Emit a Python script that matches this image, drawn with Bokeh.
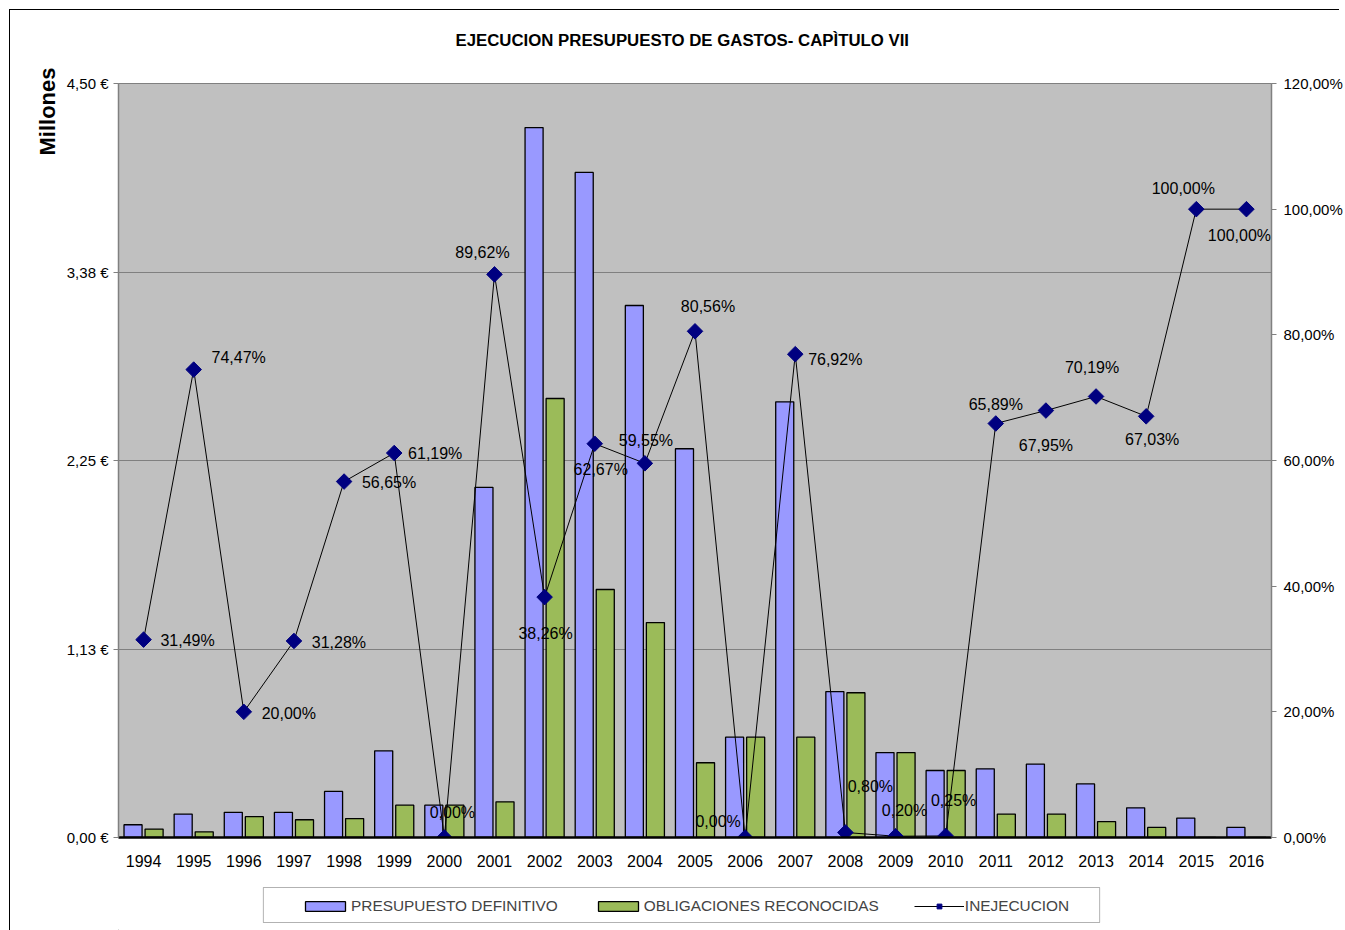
import math
from bokeh.plotting import figure
from bokeh.layouts import column
from bokeh.models import (ColumnDataSource, Range1d, FactorRange, LinearAxis, FixedTicker,
                          Legend, LegendItem, Title, InlineStyleSheet, BoxAnnotation)
from bokeh.transform import dodge
from bokeh.embed import file_html
from bokeh.resources import INLINE
from bokeh.core.properties import value

# ---------------- data ----------------
years = ["1994", "1995", "1996", "1997", "1998", "1999", "2000", "2001", "2002", "2003", "2004",
         "2005", "2006", "2007", "2008", "2009", "2010", "2011", "2012", "2013", "2014", "2015", "2016"]
presupuesto = [0.076, 0.140, 0.150, 0.150, 0.275, 0.517, 0.193, 2.090, 4.237, 3.969, 3.175,
               2.320, 0.599, 2.600, 0.871, 0.507, 0.400, 0.410, 0.438, 0.320, 0.177, 0.116, 0.060]
obligaciones = [0.050, 0.034, 0.124, 0.106, 0.113, 0.193, 0.193, 0.213, 2.620, 1.480, 1.283,
                0.446, 0.599, 0.599, 0.864, 0.507, 0.400, 0.140, 0.140, 0.095, 0.060, 0.000, 0.000]
inejecucion = [31.49, 74.47, 20.00, 31.28, 56.65, 61.19, 0.00, 89.62, 38.26, 62.67, 59.55,
               80.56, 0.00, 76.92, 0.80, 0.20, 0.25, 65.89, 67.95, 70.19, 67.03, 100.00, 100.00]

left_ticks = [0, 1.125, 2.25, 3.375, 4.5]
left_tick_labels = ["0,00 €", "1,13 €", "2,25 €", "3,38 €", "4,50 €"]
right_ticks = [0, 20, 40, 60, 80, 100, 120]
right_tick_labels = ["0,00%", "20,00%", "40,00%", "60,00%", "80,00%", "100,00%", "120,00%"]

TITLE = "EJECUCION  PRESUPUESTO  DE GASTOS- CAPÌTULO VII"
SERIES = ["PRESUPUESTO DEFINITIVO", "OBLIGACIONES RECONOCIDAS", "INEJECUCION"]

# data-label placement (pixel offsets from each marker)
label_dx = [44, 45, 45, 45, 45, 41, 8, -12, 1, 6, 1, 13, -27, 40, 25, 9, 8, 0, 0, -4, 6, -13, -7]
label_dy = [1, -12, 2, 2, 1, 0, -25, -22, 36, 26, -23, -25, -16, 5, -46, -26, -35, -19, 35, -29, 23, -21, 26]

FONT = "Liberation Sans"
W = 1345
H_MAIN = 880
H_LEG = 50
FRAME_L, FRAME_R = 118, 1272
BLUE, GREEN, NAVY = "#9999FF", "#9BBB59", "#000080"
pct_labels = [("%.2f" % v).replace(".", ",") + "%" for v in inejecucion]

src = ColumnDataSource(dict(year=years, pres=presupuesto, obl=obligaciones, inej=inejecucion,
                            lbl=pct_labels, dx=label_dx, dy=label_dy))

p = figure(x_range=FactorRange(*years), y_range=Range1d(0, 4.5),
           width=W, height=H_MAIN,
           min_border_left=FRAME_L, min_border_right=W - FRAME_R, min_border_top=83,
           min_border_bottom=H_MAIN - 837,
           output_backend="svg", toolbar_location=None,
           background_fill_color="#C0C0C0", border_fill_color="white")
p.stylesheets = [InlineStyleSheet(css=(
    ":host::after { content: ''; position: absolute; left: 9px; top: 9px; "
    "width: 1330px; height: 871px; border-top: 1px solid black; "
    "border-left: 1px solid black; pointer-events: none; }"))]
p.extra_y_ranges = {"pct": Range1d(0, 120)}
p.outline_line_color = "#808080"

# spacer + title
p.add_layout(Title(text=" ", text_font_size="1px", standoff=26), "above")
p.title.text = TITLE
p.title.align = "left"
p.title.offset = 455 - FRAME_L
p.title.standoff = 10
p.title.text_font = FONT
p.title.text_font_size = "16.8px"
p.title.text_font_style = "bold"
p.title.text_color = "black"

# bars
b1 = p.vbar(x=dodge("year", -0.21, range=p.x_range), top="pres", width=0.36, source=src,
            fill_color=BLUE, line_color="black", line_width=1.3)
b2 = p.vbar(x=dodge("year", 0.21, range=p.x_range), top="obl", width=0.36, source=src,
            fill_color=GREEN, line_color="black", line_width=1.3)

# line + markers
ln = p.line(x="year", y="inej", source=src, y_range_name="pct", line_color="black", line_width=1)
mk = p.scatter(x="year", y="inej", source=src, y_range_name="pct", marker="square",
               angle=math.pi / 4, size=11, fill_color=NAVY, line_color=NAVY)
p.text(x="year", y="inej", text="lbl", x_offset="dx", y_offset="dy", source=src,
       y_range_name="pct", text_align="center", text_baseline="middle",
       text_font=value(FONT), text_font_size="16px", text_color="black")

# axes
xa = p.xaxis[0]
xa.major_tick_line_color = None
xa.major_tick_out = 0
xa.axis_line_color = "black"
xa.axis_line_width = 2.5
xa.major_label_standoff = 17
xa.major_label_text_font = FONT
xa.major_label_text_font_size = "16px"
xa.major_label_text_color = "black"

ya = p.yaxis[0]
ya.ticker = FixedTicker(ticks=left_ticks)
ya.major_label_overrides = {t: l for t, l in zip(left_ticks, left_tick_labels)}
ya.minor_tick_line_color = None
ya.major_tick_out = 5
ya.major_tick_in = 0
ya.major_tick_line_color = "#808080"
ya.axis_line_color = "#808080"
ya.axis_line_width = 1.5
ya.major_label_standoff = 5
ya.major_label_text_font = FONT
ya.major_label_text_font_size = "15px"
ya.major_label_text_color = "black"

ra = LinearAxis(y_range_name="pct", ticker=FixedTicker(ticks=right_ticks))
ra.major_label_overrides = {t: l for t, l in zip(right_ticks, right_tick_labels)}
ra.minor_tick_line_color = None
ra.major_tick_out = 5
ra.major_tick_in = 0
ra.major_tick_line_color = "#808080"
ra.axis_line_color = "#808080"
ra.axis_line_width = 1.5
ra.major_label_standoff = 7
ra.major_label_text_font = FONT
ra.major_label_text_font_size = "15px"
ra.major_label_text_color = "black"
p.add_layout(ra, "right")

p.xgrid.grid_line_color = None
p.ygrid.ticker = FixedTicker(ticks=left_ticks)
p.ygrid.grid_line_color = "#808080"
p.ygrid.grid_line_width = 1

# "Millones" as a vertical title left of the axis, aligned to the top
p.add_layout(Title(text="Millones", align="right", offset=-16, standoff=8,
                   text_font=FONT, text_font_size="22px", text_font_style="bold",
                   text_color="black"), "left")

# ---------------- legend strip below the chart ----------------
# (its frame is aligned with the chart frame by the column layout, so its
#  x range is expressed in page pixels between the frame edges)
q = figure(width=W, height=H_LEG, x_range=Range1d(FRAME_L, FRAME_R), y_range=Range1d(0, H_LEG),
           min_border=0, min_border_left=FRAME_L, min_border_right=W - FRAME_R,
           x_axis_location=None, y_axis_location=None,
           output_backend="svg", toolbar_location=None,
           background_fill_color="white", border_fill_color="white")
q.outline_line_color = None
q.grid.visible = False
q.stylesheets = [InlineStyleSheet(css=(
    ":host::after { content: ''; position: absolute; left: 9px; top: 0px; "
    "width: 1px; height: 50px; border-left: 1px solid black; pointer-events: none; }"))]
q.add_layout(BoxAnnotation(left=263, right=1100, bottom=8, top=43, fill_color="white",
                           fill_alpha=1, line_color="black", line_width=1))
hidden = ColumnDataSource(dict(x=[-5000], y=[-5000]))
lb1 = q.vbar(x="x", top="y", width=1, source=hidden, fill_color=BLUE, line_color="black", line_width=1.3)
lb2 = q.vbar(x="x", top="y", width=1, source=hidden, fill_color=GREEN, line_color="black", line_width=1.3)
lln = q.line(x="x", y="y", source=hidden, line_color="black", line_width=1)
lmk = q.scatter(x="x", y="y", source=hidden, marker="square", angle=math.pi / 4, size=8,
                fill_color=NAVY, line_color=NAVY)
legend = Legend(items=[LegendItem(label=SERIES[0], renderers=[lb1]),
                       LegendItem(label=SERIES[1], renderers=[lb2]),
                       LegendItem(label=SERIES[2], renderers=[lln, lmk])],
                orientation="horizontal", location=(300 - FRAME_L, 15),
                glyph_width=50, glyph_height=12, label_standoff=1, spacing=35,
                padding=8, margin=0, label_text_font=FONT, label_text_font_size="15.4px",
                label_height=19, border_line_color=None, background_fill_alpha=0)
q.add_layout(legend, "center")

open("out.html", "w").write(file_html(column(p, q, spacing=0), INLINE))
